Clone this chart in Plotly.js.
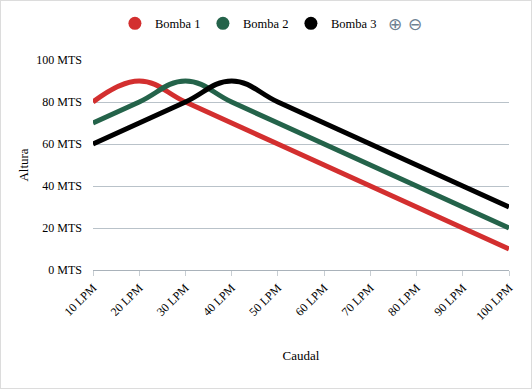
<!DOCTYPE html>
<html><head><meta charset="utf-8">
<script src="https://cdn.plot.ly/plotly-3.0.1.min.js"></script>
<style>
html,body{margin:0;padding:0;background:#fff;}
#chart{width:530px;height:387px;border:1px solid #dcdcdc;}
</style></head>
<body><div id="chart"></div>
<script>
const categories = ["10 LPM","20 LPM","30 LPM","40 LPM","50 LPM","60 LPM","70 LPM","80 LPM","90 LPM","100 LPM"];
const bomba1 = [80,90,80,70,60,50,40,30,20,10];
const bomba2 = [70,80,90,80,70,60,50,40,30,20];
const bomba3 = [60,70,80,90,80,70,60,50,40,30];
const seriesNames = ["Bomba 1","Bomba 2","Bomba 3"];
const colors = ["#d32f2f","#24634a","#000000"];
const yTicks = [0,20,40,60,80,100];

const series = [bomba1,bomba2,bomba3];
const traces = [];
series.forEach((s,i)=>{
  traces.push({x:categories,y:s,type:'scatter',mode:'lines',name:seriesNames[i],
    line:{color:colors[i],width:5,shape:'spline',smoothing:1.2},showlegend:false,hoverinfo:'x+y'});
});
series.forEach((s,i)=>{
  traces.push({x:[null],y:[null],type:'scatter',mode:'markers',name:seriesNames[i],
    marker:{color:colors[i],size:13,symbol:'circle'},showlegend:true});
});

const fam = 'Liberation Serif, Times New Roman, serif';
const font = {family:fam,size:12,color:'#000'};
const layout = {
  width:530,height:387,
  margin:{l:92,r:22,t:59,b:118},
  paper_bgcolor:'#fff',plot_bgcolor:'#fff',
  font:font,
  showlegend:true,
  legend:{orientation:'h',xref:'container',yref:'container',x:0.464,xanchor:'center',y:0.98,yanchor:'top',
    font:{family:fam,size:12.5,color:'#000'},itemwidth:30,entrywidth:43,entrywidthmode:'pixels',tracegroupgap:0,traceorder:'normal'},
  xaxis:{type:'category',range:[0,9],showgrid:false,showline:true,linecolor:'#a9b2ba',linewidth:1,
    ticks:'outside',ticklen:5,tickcolor:'#c8ced3',tickangle:-45,tickfont:font,zeroline:false,
    title:{text:'Caudal',font:{family:fam,size:13},standoff:28}},
  yaxis:{range:[0,100],tickvals:yTicks,ticktext:yTicks.map(v=>v+' MTS'),showgrid:true,gridcolor:'#b9c2c9',gridwidth:1,
    zeroline:false,showline:false,tickfont:font,ticks:'',ticklabelstandoff:10,
    title:{text:'Altura',font:{family:fam,size:13},standoff:4}},
  annotations:[
    {xref:'paper',yref:'paper',x:0.726,y:1.171,xanchor:'center',yanchor:'middle',text:'⊕',showarrow:false,font:{family:'DejaVu Sans',size:17,color:'#6e8192'}},
    {xref:'paper',yref:'paper',x:0.774,y:1.171,xanchor:'center',yanchor:'middle',text:'⊖',showarrow:false,font:{family:'DejaVu Sans',size:17,color:'#6e8192'}}
  ]
};
Plotly.newPlot('chart',traces,layout,{displayModeBar:false,responsive:false});
</script></body></html>
